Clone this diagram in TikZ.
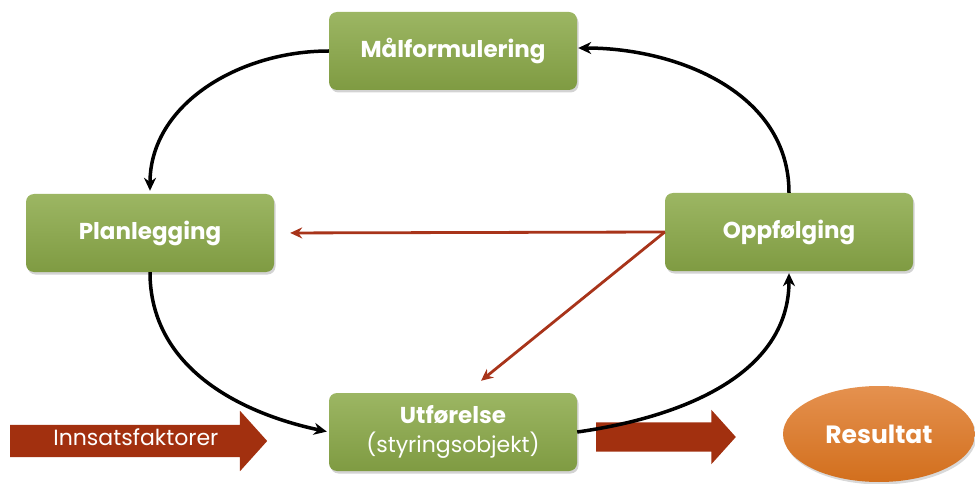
\documentclass[tikz,border=0pt]{standalone}
\usepackage{fontspec}
\setmainfont{Poppins}
\usetikzlibrary{arrows.meta,positioning,shapes.geometric,shapes.arrows,shadows}
\definecolor{stagetop}{HTML}{9CB663}
\definecolor{stagebot}{HTML}{7F9B42}
\definecolor{flowred}{HTML}{A8341A}
\definecolor{fillred}{HTML}{A2300F}
\definecolor{restop}{HTML}{E5914F}
\definecolor{resbot}{HTML}{D26F1D}

\begin{document}
\begin{tikzpicture}[
  x=1pt, y=1pt,
  every node/.style={font=\fontsize{23}{27}\selectfont, align=center, text=white},
  stage/.style={rectangle, rounded corners=8pt, minimum width=248pt,
    minimum height=78pt, top color=stagetop, bottom color=stagebot,
    drop shadow={opacity=0.35, shadow xshift=1.5pt, shadow yshift=-2.5pt}},
  cycleflow/.style={draw, line width=3.5pt, -{Stealth[length=13pt,width=12pt]}},
  backflow/.style={draw=flowred, line width=2.8pt, -{Stealth[length=12pt,width=11pt]}},
  bigarrow/.style={single arrow, fill=fillred, inner xsep=0pt,
    single arrow tip angle=96}
]
\useasboundingbox (0,0) rectangle (975,-484);

% the four stages
\node[stage] (mal) at (453,-51) {\bfseries Målformulering};
\node[stage] (plan) at (150,-233) {\bfseries Planlegging};
\node[stage] (opp) at (789,-232) {\bfseries Oppfølging};
\node[stage] (utf) at (453,-432)
  {\bfseries Utførelse\\[2pt]{\fontsize{22}{26}\selectfont(styringsobjekt)}};

% input and result
\node[bigarrow, anchor=west, minimum width=60pt,
  single arrow head extend=14pt, text height=12pt, text depth=4pt,
  inner ysep=8pt, font=\fontsize{22}{26}\selectfont] (inn) at (10,-441)
  {\makebox[242pt][l]{\hspace{43pt}Innsatsfaktorer}};
\node[bigarrow, anchor=west, minimum width=54pt,
  single arrow head extend=12.5pt, text height=0pt, text depth=0pt,
  inner ysep=14.5pt] (out) at (596,-437) {\makebox[126pt]{}};
\node[ellipse, minimum width=192pt, minimum height=96pt,
  top color=restop, bottom color=resbot,
  drop shadow={opacity=0.3, shadow xshift=1.5pt, shadow yshift=-2.5pt},
  font=\fontsize{25}{29}\selectfont\bfseries] (res) at (879,-434) {Resultat};

% the cycle
\draw[cycleflow, shorten >=3pt] (mal.west) to[out=180, in=90] (plan.north);
\draw[cycleflow, shorten >=2pt] (plan.south) to[out=-90, in=168] (utf.west);
\draw[cycleflow, shorten >=2pt] (utf.east) to[out=8, in=-90] (opp.south);
\draw[cycleflow, shorten >=1pt] (opp.north) to[out=90, in=0] ([yshift=3pt]mal.east);

% feedback
\coordinate (utfin) at ([xshift=28pt, yshift=12pt]utf.north);
\draw[backflow, shorten >=16pt] (opp.west) -- (plan.east);
\draw[backflow] (opp.west) -- (utfin);
\end{tikzpicture}
\end{document}
